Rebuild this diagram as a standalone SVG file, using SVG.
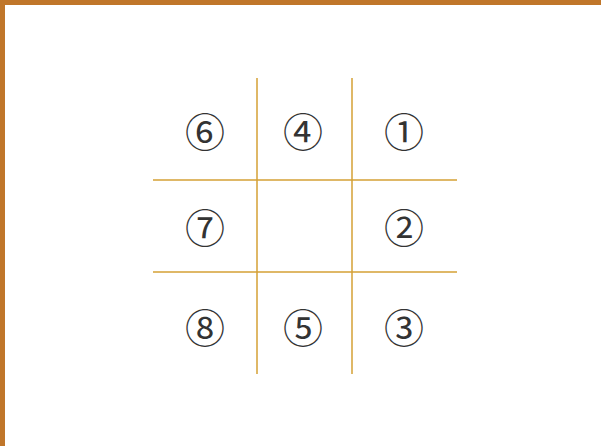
<svg xmlns="http://www.w3.org/2000/svg" width="601" height="446" viewBox="0 0 601 446">
<style>
.g{stroke:#D4A035;stroke-width:1.5;fill:none}
.n{font-family:"Noto Sans CJK JP","DejaVu Serif",serif;font-size:40px;fill:#333;text-anchor:middle;dominant-baseline:central}
</style>
<rect x="0" y="0" width="601" height="446" fill="#fff"/>
<rect x="0" y="0" width="601" height="5" fill="#C0762A"/>
<rect x="0" y="0" width="5" height="446" fill="#C0762A"/>
<g id="grid" class="g">
<line x1="257" y1="78" x2="257" y2="374"/>
<line x1="352" y1="78" x2="352" y2="374"/>
<line x1="153" y1="180" x2="457" y2="180"/>
<line x1="153" y1="272" x2="457" y2="272"/>
</g>
<g id="n6"><text class="n" x="205" y="130">⑥</text></g>
<g id="n4"><text class="n" x="303" y="130">④</text></g>
<g id="n1"><text class="n" x="404" y="130">①</text></g>
<g id="n7"><text class="n" x="205" y="226">⑦</text></g>
<g id="n2"><text class="n" x="404" y="226">②</text></g>
<g id="n8"><text class="n" x="205" y="326">⑧</text></g>
<g id="n5"><text class="n" x="303" y="326">⑤</text></g>
<g id="n3"><text class="n" x="404" y="326">③</text></g>
</svg>
